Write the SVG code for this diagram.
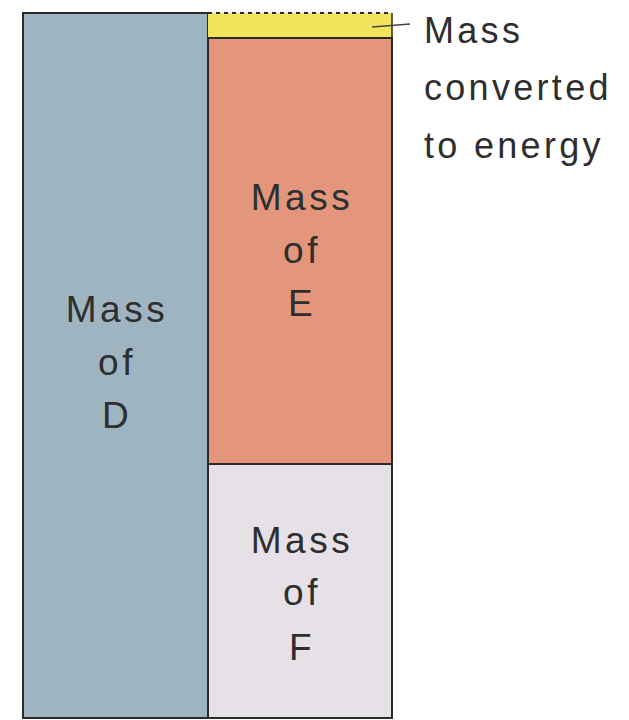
<svg xmlns="http://www.w3.org/2000/svg" width="629" height="720" viewBox="0 0 629 720">
<style>
.lbl{font-family:"Liberation Sans","DejaVu Sans",sans-serif;font-size:37px;fill:#2e2e2e;text-anchor:middle;letter-spacing:3.5px}
.note{font-family:"Liberation Sans","DejaVu Sans",sans-serif;font-size:36px;fill:#2e2e2e;letter-spacing:3.3px}
.box{stroke:#2a2a2a;stroke-width:2}
</style>
<rect width="629" height="720" fill="#ffffff"/>
<g id="massD">
<rect class="box" x="23" y="13" width="185" height="705" fill="#9fb4c1"/>
<text class="lbl" x="117" y="322">Mass</text>
<text class="lbl" x="117" y="375">of</text>
<text class="lbl" x="117" y="428">D</text>
</g>
<g id="converted">
<rect x="208" y="13" width="184" height="25" fill="#f3e35c"/>
<line x1="208" y1="13" x2="392" y2="13" stroke="#2a2a2a" stroke-width="2" stroke-dasharray="4 4"/>
<line x1="392" y1="13" x2="392" y2="38" stroke="#2a2a2a" stroke-width="1.5"/>
</g>
<g id="massE">
<rect class="box" x="208" y="38" width="184" height="426" fill="#e3967b" stroke="#5a2a1a"/>
<text class="lbl" x="302" y="210">Mass</text>
<text class="lbl" x="302" y="263">of</text>
<text class="lbl" x="302" y="316">E</text>
</g>
<g id="massF">
<rect class="box" x="208" y="464" width="184" height="254" fill="#e5e1e6"/>
<text class="lbl" x="302" y="553">Mass</text>
<text class="lbl" x="302" y="605">of</text>
<text class="lbl" x="302" y="660">F</text>
</g>
<g id="connectors">
<line x1="372" y1="27" x2="410" y2="24" stroke="#444" stroke-width="1.5"/>
</g>
<g id="noteLabel">
<text class="note" x="424" y="43">Mass</text>
<text class="note" x="424" y="100">converted</text>
<text class="note" x="424" y="158">to energy</text>
</g>
</svg>
